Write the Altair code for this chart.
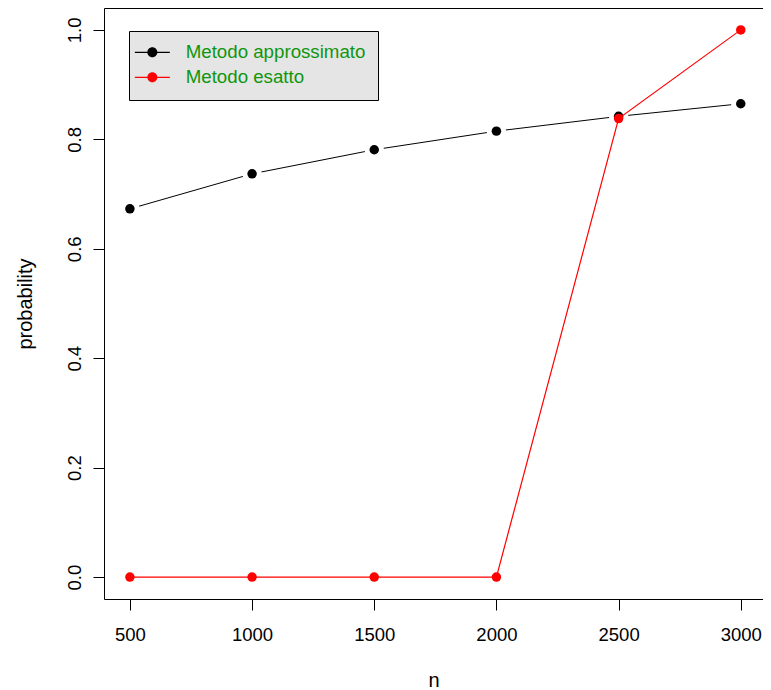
import altair as alt
import pandas as pd

n_values = [500, 1000, 1500, 2000, 2500, 3000]
approx_prob = [0.673, 0.737, 0.781, 0.815, 0.842, 0.865]
exact_prob = [0.0, 0.0, 0.0, 0.0, 0.838, 1.0]
methods = ["Metodo approssimato", "Metodo esatto"]
colors = ["#000000", "#ff0000"]
y_ticks = [0.0, 0.2, 0.4, 0.6, 0.8, 1.0]

rows = []
for n, p in zip(n_values, approx_prob):
    rows.append({"n": n, "probability": p, "method": methods[0]})
for n, p in zip(n_values, exact_prob):
    rows.append({"n": n, "probability": p, "method": methods[1]})
df = pd.DataFrame(rows)

FONT = "Liberation Sans"
GREEN = "#0f960f"

sym_path = ("M-3.5,-0.12H3.5V0.12H-3.5Z "
            "M-1,0A1,1 0 1,1 1,0A1,1 0 1,1 -1,0Z")

x_enc = alt.X("n:Q", scale=alt.Scale(domain=[394, 3091], nice=False, zero=False),
              axis=alt.Axis(values=n_values, format="d", title="n",
                            titleY=87, titleBaseline="alphabetic",
                            labelBaseline="alphabetic", labelPadding=30,
                            labelAlign="center"))
y_enc = alt.Y("probability:Q", scale=alt.Scale(domain=[-0.04, 1.04], nice=False, zero=False),
              axis=alt.Axis(values=y_ticks, format=".1f", title="probability",
                            titleX=-73, titleBaseline="alphabetic", titleAngle=270,
                            labelAngle=270, labelAlign="center",
                            labelBaseline="alphabetic", labelPadding=13))

color_enc = alt.Color("method:N", scale=alt.Scale(domain=methods, range=colors),
                      legend=alt.Legend(title=None, orient="none", legendX=25, legendY=23,
                                        fillColor="#e5e5e5", strokeColor="black",
                                        padding=12, rowPadding=5,
                                        labelColor=GREEN, labelFontSize=18.7, labelFont=FONT,
                                        labelLimit=400,
                                        symbolType=sym_path, symbolSize=100,
                                        symbolStrokeWidth=0, symbolOffset=2,
                                        labelOffset=24))

base = alt.Chart(df).encode(x=x_enc, y=y_enc)

approx = base.transform_filter(alt.datum.method == methods[0])
exact = base.transform_filter(alt.datum.method == methods[1])

l1 = approx.mark_line(strokeWidth=1).encode(color=color_enc)
halo = approx.mark_point(filled=True, size=380, opacity=1, color="white")
p1 = approx.mark_point(filled=True, size=90, opacity=1).encode(color=color_enc)
l2 = exact.mark_line(strokeWidth=1.2).encode(color=color_enc)
p2 = exact.mark_point(filled=True, size=90, opacity=1).encode(color=color_enc)

chart = alt.layer(l1, halo, p1, l2, p2).properties(
    width=659, height=591,
    autosize=alt.AutoSizeParams(type="none"),
    padding={"left": 96, "top": 0, "right": 0, "bottom": 91},
).configure_view(
    stroke="black", strokeWidth=1
).configure_axis(
    grid=False, domain=False, tickColor="black", tickSize=11, tickWidth=1,
    labelFont=FONT, labelFontSize=18.5, labelColor="black",
    titleFont=FONT, titleFontSize=20, titleFontWeight="normal", titleColor="black",
)

chart.save("out.html", embed_options={"renderer": "svg", "actions": False})
